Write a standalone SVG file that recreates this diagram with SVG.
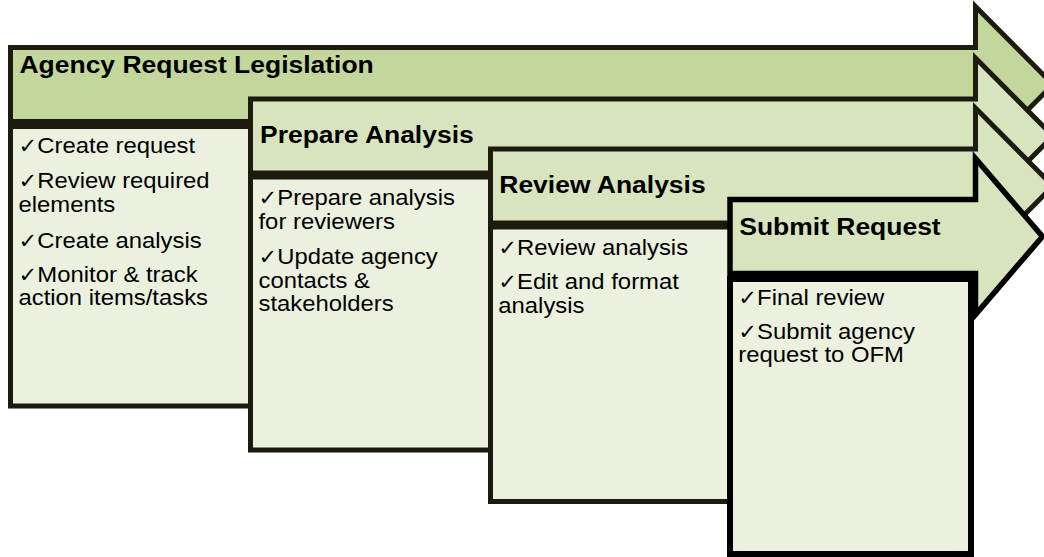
<svg xmlns="http://www.w3.org/2000/svg" width="1044" height="557" viewBox="0 0 1044 557">
  <style>
    .arrow { stroke: #1d1b10; stroke-width: 5; stroke-linejoin: miter; stroke-miterlimit: 10; }
    .arrow.first { fill: #c3d69b; }
    .arrow.next { fill: #d7e4bd; }
    .arrow.last { fill: #d7e4bd; stroke: #000; stroke-width: 5.5; }
    .body { fill: #ebf1de; stroke: #1d1b10; stroke-width: 5; }
    .body.last { stroke: #000; stroke-width: 6; }
    .title { font-family: "Liberation Sans", Arial, sans-serif; font-weight: bold; font-size: 24.4px; fill: #000; }
    .item { font-family: "Liberation Sans", Arial, sans-serif; font-size: 22.3px; fill: #000; }
    .ck { font-family: "DejaVu Sans", sans-serif; font-size: 21px; }
  </style>
  <rect width="1044" height="557" fill="#ffffff"/>

  <!-- Stage 1 -->
  <g id="stage-agency-request">
    <path class="arrow first" d="M10.5,47.5 H975.5 V6.5 L1053,84.5 L975.5,162.5 V121.5 H10.5 Z"/>
    <text class="title" transform="matrix(1.085 0 0 1 19.5 72.7)">Agency Request Legislation</text>
    <rect class="body" x="10.5" y="126.5" width="240" height="279.5"/>
    <g class="item">
      <text transform="matrix(1.07 0 0 1 18.5 153.3)"><tspan class="ck">✓</tspan>Create request</text>
      <text transform="matrix(1.07 0 0 1 18.5 188.3)"><tspan class="ck">✓</tspan>Review required</text>
      <text transform="matrix(1.07 0 0 1 18.5 211.8)">elements</text>
      <text transform="matrix(1.07 0 0 1 18.5 248.3)"><tspan class="ck">✓</tspan>Create analysis</text>
      <text transform="matrix(1.07 0 0 1 18.5 281.7)"><tspan class="ck">✓</tspan>Monitor &amp; track</text>
      <text transform="matrix(1.07 0 0 1 18.5 305.2)">action items/tasks</text>
    </g>
  </g>

  <!-- Stage 2 -->
  <g id="stage-prepare-analysis">
    <path class="arrow next" d="M250.5,99 H975.5 V58 L1053,136 L975.5,214 V173 H250.5 Z"/>
    <text class="title" transform="matrix(1.085 0 0 1 260 143.3)">Prepare Analysis</text>
    <rect class="body" x="250.5" y="177" width="240" height="273"/>
    <g class="item">
      <text transform="matrix(1.07 0 0 1 258.5 205)"><tspan class="ck">✓</tspan>Prepare analysis</text>
      <text transform="matrix(1.07 0 0 1 258.5 228.5)">for reviewers</text>
      <text transform="matrix(1.07 0 0 1 258.5 264)"><tspan class="ck">✓</tspan>Update agency</text>
      <text transform="matrix(1.07 0 0 1 258.5 287.5)">contacts &amp;</text>
      <text transform="matrix(1.07 0 0 1 258.5 311)">stakeholders</text>
    </g>
  </g>

  <!-- Stage 3 -->
  <g id="stage-review-analysis">
    <path class="arrow next" d="M490.5,149 H975.5 V108 L1053,186 L975.5,264 V223 H490.5 Z"/>
    <text class="title" transform="matrix(1.085 0 0 1 499.3 193.3)">Review Analysis</text>
    <rect class="body" x="490.5" y="227" width="240" height="274.5"/>
    <g class="item">
      <text transform="matrix(1.07 0 0 1 498.3 255)"><tspan class="ck">✓</tspan>Review analysis</text>
      <text transform="matrix(1.07 0 0 1 498.3 289)"><tspan class="ck">✓</tspan>Edit and format</text>
      <text transform="matrix(1.07 0 0 1 498.3 312.5)">analysis</text>
    </g>
  </g>

  <!-- Stage 4 -->
  <g id="stage-submit-request">
    <path class="arrow last" d="M730,199.5 H975.5 V158.5 L1042.5,236.5 L975.5,314.5 V273.5 H730 Z"/>
    <text class="title" transform="matrix(1.085 0 0 1 739.3 235)">Submit Request</text>
    <rect class="body last" x="730" y="279" width="241" height="275"/>
    <g class="item">
      <text transform="matrix(1.07 0 0 1 738.3 305)"><tspan class="ck">✓</tspan>Final review</text>
      <text transform="matrix(1.07 0 0 1 738.3 338.5)"><tspan class="ck">✓</tspan>Submit agency</text>
      <text transform="matrix(1.07 0 0 1 738.3 362)">request to OFM</text>
    </g>
  </g>

  <!-- The stages are chained by their arrow shapes; there are no separate connectors -->
  <g id="connectors"/>
</svg>
